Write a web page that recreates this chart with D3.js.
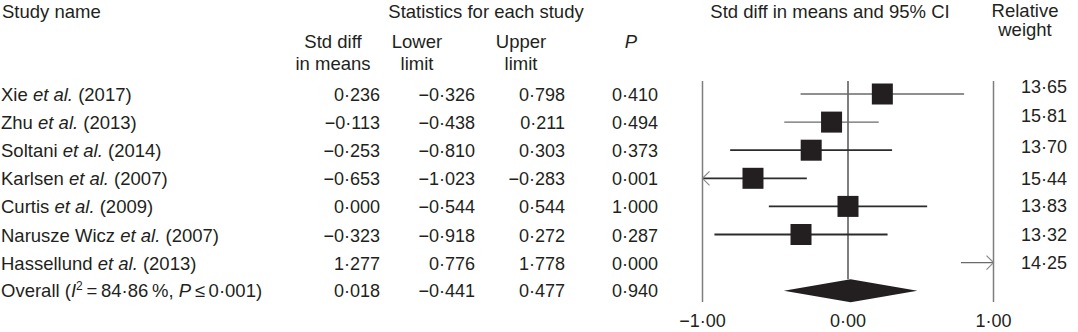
<!DOCTYPE html>
<html lang="en">
    <head>
        <meta charset="utf-8">
        <title>Forest plot</title>
        <script src="https://d3js.org/d3.v7.min.js"></script>
        <style type="text/css">
            body { margin: 0; background: #fff; }
            text {
                font-family: "Liberation Sans", Arial, sans-serif;
                font-size: 18.5px;
                fill: #231f20;
            }
            .num { font-size: 18px; }
        </style>
    </head>
    <body>
        <script type="text/javascript">
            // Data
            const authors = ["Xie", "Zhu", "Soltani", "Karlsen", "Curtis", "Narusze Wicz", "Hassellund"];
            const years = ["2017", "2013", "2014", "2007", "2009", "2007", "2013"];
            const smd = [0.236, -0.113, -0.253, -0.653, 0.000, -0.323, 1.277];
            const lower = [-0.326, -0.438, -0.810, -1.023, -0.544, -0.918, 0.776];
            const upper = [0.798, 0.211, 0.303, -0.283, 0.544, 0.272, 1.778];
            const pval = [0.410, 0.494, 0.373, 0.001, 1.000, 0.287, 0.000];
            const weights = [13.65, 15.81, 13.70, 15.44, 13.83, 13.32, 14.25];
            const overall = {smd: 0.018, lower: -0.441, upper: 0.477, p: 0.940};
            const ticks = [-1, 0, 1];

            //constants
            const w = 1078;
            const h = 332;
            const rowTop = 94;
            const rowStep = 28.1;
            const sq = 21;
            // the weight column sits a little high in the original
            const weightNudge = [-8, -7, -4, 0, -1, -1, -1];

            // number formatting like the journal: en dash minus, middle dot decimal
            const fmt = (v, p) => d3.format("." + p + "f")(v).replace("-", "\u2013").replace(".", "\u00b7");

            const x = d3.scaleLinear().domain([-1, 1]).range([702.5, 993.5]);
            const y = d3.scaleLinear().domain([0, 1]).range([rowTop, rowTop + rowStep]);

            const svg = d3.select("body")
                          .append("svg")
                          .attr("width", w)
                          .attr("height", h);

            //headers
            const head = svg.append("g");
            head.append("text").attr("x", 2).attr("y", 18).text("Study name");
            head.append("text").attr("x", 486).attr("y", 18).attr("text-anchor", "middle").text("Statistics for each study");
            head.append("text").attr("x", 830).attr("y", 18).attr("text-anchor", "middle").text("Std diff in means and 95% CI");
            head.append("text").attr("x", 1025).attr("y", 17).attr("text-anchor", "middle").text("Relative");
            head.append("text").attr("x", 1025).attr("y", 36).attr("text-anchor", "middle").text("weight");

            const sub = [["Std diff", "in means", 333], ["Lower", "limit", 417], ["Upper", "limit", 521]];
            sub.forEach(s => {
                head.append("text").attr("x", s[2]).attr("y", 48).attr("text-anchor", "middle").text(s[0]);
                head.append("text").attr("x", s[2]).attr("y", 70).attr("text-anchor", "middle").text(s[1]);
            });
            head.append("text").attr("x", 631).attr("y", 48).attr("text-anchor", "middle")
                .attr("font-style", "italic").text("P");

            //study rows
            const rows = svg.selectAll("g.row")
                            .data(authors)
                            .enter()
                            .append("g")
                            .attr("class", "row")
                            .attr("transform", (d, i) => "translate(0," + y(i) + ")");

            const name = rows.append("text").attr("x", 1).attr("y", 7);
            name.append("tspan").text(d => d + " ");
            name.append("tspan").attr("font-style", "italic").text("et al.");
            name.append("tspan").text((d, i) => " (" + years[i] + ")");

            const cols = [[smd, 380], [lower, 475], [upper, 565], [pval, 658]];
            cols.forEach(c => {
                rows.append("text")
                    .attr("class", "num")
                    .attr("x", c[1]).attr("y", 7)
                    .attr("text-anchor", "end")
                    .text((d, i) => fmt(c[0][i], 3));
            });

            rows.append("text")
                .attr("class", "num")
                .attr("x", 1067).attr("y", (d, i) => 7 + weightNudge[i])
                .attr("text-anchor", "end")
                .text((d, i) => fmt(weights[i], 2));

            //overall row
            const oy = y(authors.length) + 6;
            const ov = svg.append("text").attr("x", 1).attr("y", oy);
            ov.append("tspan").text("Overall (");
            ov.append("tspan").attr("font-style", "italic").text("I");
            ov.append("tspan").attr("font-size", "12px").attr("dy", -7).text("2");
            ov.append("tspan").attr("dy", 7).text("\u2009=\u200984\u00b786\u2009%, ");
            ov.append("tspan").attr("font-style", "italic").text("P");
            ov.append("tspan").text("\u2009\u2264\u20090\u00b7001)");
            [[overall.smd, 380], [overall.lower, 475], [overall.upper, 565], [overall.p, 658]].forEach(c => {
                svg.append("text").attr("class", "num").attr("x", c[1]).attr("y", oy).attr("text-anchor", "end").text(fmt(c[0], 3));
            });

            //plot reference lines
            const plot = svg.append("g");
            const lineTop = 81;
            const lineBot = 302;
            const diaY = y(authors.length);
            const diaH = 11.5;
            plot.selectAll("line.ref")
                .data([-1, 1])
                .enter()
                .append("line")
                .attr("class", "ref")
                .attr("x1", d => x(d)).attr("x2", d => x(d))
                .attr("y1", lineTop).attr("y2", lineBot)
                .attr("stroke", "#7d7d7d").attr("stroke-width", 1.5);
            plot.append("line")
                .attr("x1", x(0)).attr("x2", x(0))
                .attr("y1", lineTop).attr("y2", diaY - diaH)
                .attr("stroke", "#555").attr("stroke-width", 1.5);

            //confidence intervals (clipped with arrows)
            const ci = plot.selectAll("g.ci")
                           .data(authors)
                           .enter()
                           .append("g")
                           .attr("class", "ci")
                           .attr("transform", (d, i) => "translate(0," + y(i) + ")");

            const lo = i => Math.max(lower[i], -1);
            const hi = i => Math.min(upper[i], 1);

            ci.append("line")
              .attr("x1", (d, i) => x(lo(i)))
              .attr("x2", (d, i) => x(hi(i)))
              .attr("y1", 0).attr("y2", 0)
              .attr("stroke", (d, i) => i < 2 || i == 6 ? "#6a6a6a" : "#2b2b2b")
              .attr("stroke-width", (d, i) => i < 2 || i == 6 ? 1.3 : 1.8);

            ci.filter((d, i) => lower[i] < -1)
              .append("path")
              .attr("d", "M" + (x(-1) + 7) + ",-7L" + x(-1) + ",0L" + (x(-1) + 7) + ",7")
              .attr("fill", "none").attr("stroke", "#888").attr("stroke-width", 1.2);

            ci.filter((d, i) => upper[i] > 1)
              .append("path")
              .attr("d", "M" + (x(1) - 7) + ",-7L" + x(1) + ",0L" + (x(1) - 7) + ",7")
              .attr("fill", "none").attr("stroke", "#888").attr("stroke-width", 1.2);

            ci.filter((d, i) => smd[i] >= -1 && smd[i] <= 1)
              .append("rect")
              .attr("x", (d, i) => x(smd[i]) - sq / 2)
              .attr("y", -sq / 2)
              .attr("width", sq).attr("height", sq)
              .attr("fill", "#231f20");

            //overall diamond
            plot.append("path")
                .attr("d", "M" + x(overall.lower) + "," + diaY
                    + "L" + x(overall.smd) + "," + (diaY - diaH)
                    + "L" + x(overall.upper) + "," + diaY
                    + "L" + x(overall.smd) + "," + (diaY + diaH)
                    + "Z")
                .attr("fill", "#231f20");

            //axis labels
            plot.selectAll("text.tick")
                .data(ticks)
                .enter()
                .append("text")
                .attr("class", "tick num")
                .attr("x", d => x(d))
                .attr("y", 327)
                .attr("text-anchor", "middle")
                .text(d => fmt(d, 2));
        </script>
    </body>
</html>
